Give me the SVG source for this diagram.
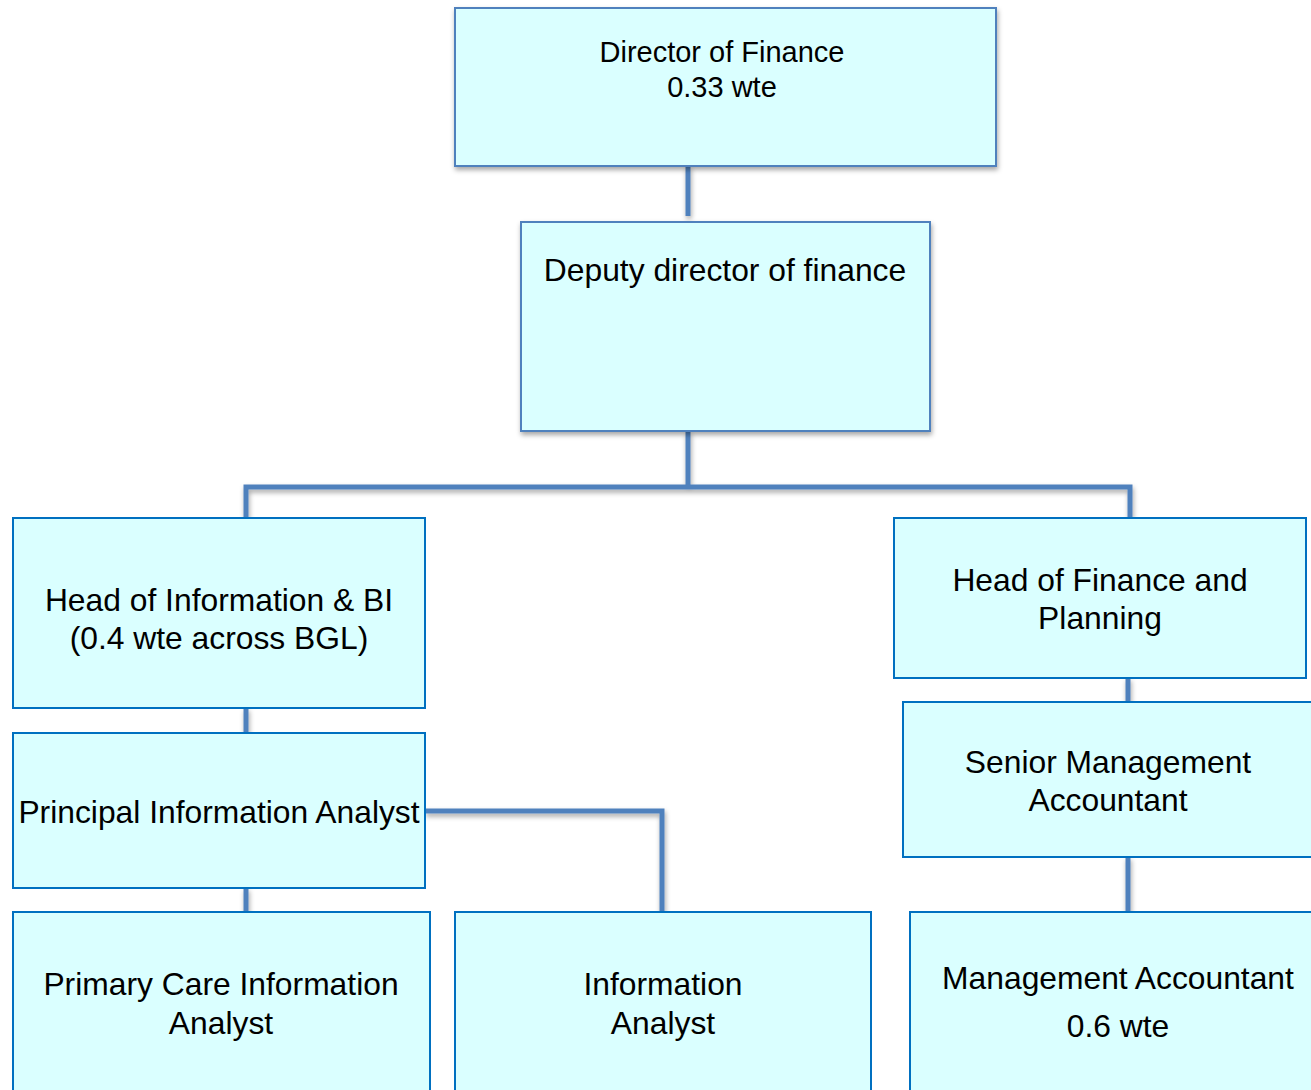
<svg xmlns="http://www.w3.org/2000/svg" width="1311" height="1090" viewBox="0 0 1311 1090">
<style>
.box{fill:#DAFFFF;stroke:#0070C0;stroke-width:2}
.boxs{fill:#DAFFFF;stroke:#4F81BD;stroke-width:2}
.t{font-family:"Liberation Sans",Arial,sans-serif;font-size:31.8px;fill:#000;text-anchor:middle}
.ts{font-size:29px}
.c{fill:none;stroke:#4F81BD;stroke-width:5}
</style>
<defs>
<filter id="sh" x="-10%" y="-10%" width="120%" height="130%">
<feDropShadow dx="1" dy="3" stdDeviation="2.5" flood-color="#000" flood-opacity="0.35"/>
</filter>
</defs>
<rect width="1311" height="1090" fill="#fff"/>
<g id="connectors" filter="url(#sh)">
<path class="c" d="M688 166V216"/>
<path class="c" d="M688 431V487M246 518V487H1130V518"/>
<path class="c" d="M246 708V733"/>
<path class="c" d="M246 888V912"/>
<path class="c" d="M425 811H662V912"/>
<path class="c" d="M1128 678V702"/>
<path class="c" d="M1128 857V912"/>
</g>
<g id="director">
<rect class="boxs" x="455" y="8" width="541" height="158" filter="url(#sh)"/>
<text class="t ts" x="722" y="62">Director of Finance</text>
<text class="t ts" x="722" y="97">0.33 wte</text>
</g>
<g id="deputy">
<rect class="boxs" x="521" y="222" width="409" height="209" filter="url(#sh)"/>
<text class="t" x="725" y="281">Deputy director of finance</text>
</g>
<g id="head-info">
<rect class="box" x="13" y="518" width="412" height="190"/>
<text class="t" x="219" y="611">Head of Information &amp; BI</text>
<text class="t" x="219" y="649">(0.4 wte across BGL)</text>
</g>
<g id="head-finance">
<rect class="box" x="894" y="518" width="412" height="160"/>
<text class="t" x="1100" y="591">Head of Finance and</text>
<text class="t" x="1100" y="629">Planning</text>
</g>
<g id="principal">
<rect class="box" x="13" y="733" width="412" height="155"/>
<text class="t" x="219" y="823">Principal Information Analyst</text>
</g>
<g id="senior">
<rect class="box" x="903" y="702" width="412" height="155"/>
<text class="t" x="1108" y="773">Senior Management</text>
<text class="t" x="1108" y="811">Accountant</text>
</g>
<g id="primary-care">
<rect class="box" x="13" y="912" width="417" height="182"/>
<text class="t" x="221" y="995">Primary Care Information</text>
<text class="t" x="221" y="1034">Analyst</text>
</g>
<g id="info-analyst">
<rect class="box" x="455" y="912" width="416" height="182"/>
<text class="t" x="663" y="995">Information</text>
<text class="t" x="663" y="1034">Analyst</text>
</g>
<g id="mgmt-accountant">
<rect class="box" x="910" y="912" width="410" height="182"/>
<text class="t" x="1118" y="989">Management Accountant</text>
<text class="t" x="1118" y="1037">0.6 wte</text>
</g>
</svg>
